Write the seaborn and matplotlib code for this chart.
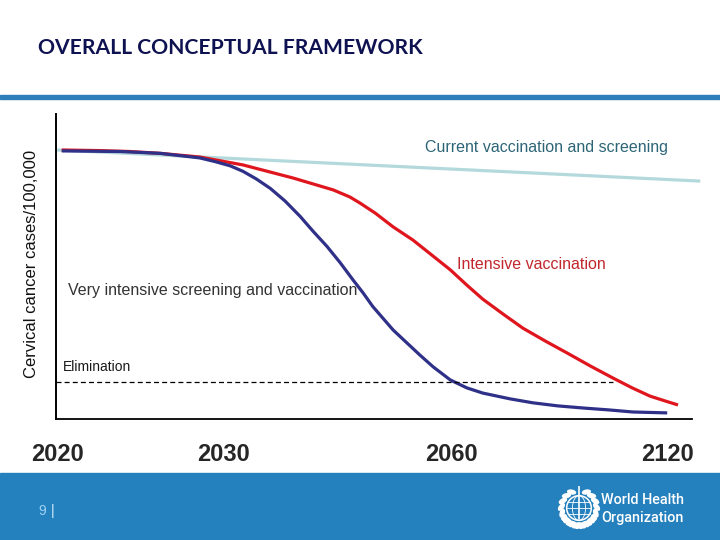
import numpy as np
import pandas as pd
import seaborn as sns
import matplotlib.pyplot as plt
from matplotlib.patches import Rectangle, Circle, Ellipse

# data (relative units: x = % of time axis, y = % of axis height)
current_x = [0.2, 101.3]
current_y = [88.2, 78.0]

intensive_x = [0.9, 6.9, 11.6, 16.4, 22.6, 29.4, 37.3, 43.6, 46.2, 47.8,
               50.2, 53.0, 56.1, 59.3, 62.0, 64.6, 67.1, 70.3, 73.4, 76.9,
               80.4, 84.0, 87.6, 90.6, 93.4, 95.8, 97.8]
intensive_y = [88.2, 88.0, 87.7, 87.1, 85.9, 83.3, 79.0, 75.1, 72.8, 70.8,
               67.5, 63.0, 58.7, 53.4, 48.9, 43.9, 39.3, 34.4, 29.8, 25.6,
               21.6, 17.4, 13.4, 10.2, 7.5, 5.9, 4.6]

very_x = [0.9, 10.1, 16.4, 22.6, 25.0, 27.4, 29.4, 31.5, 33.7, 36.0,
          38.4, 40.4, 42.6, 44.7, 46.7, 48.3, 49.8, 53.0, 55.2, 57.2,
          59.3, 62.0, 64.6, 67.1, 71.4, 75.0, 78.9, 82.9, 86.8, 90.7, 96.1]
very_y = [87.9, 87.7, 87.1, 85.6, 84.4, 83.0, 81.2, 78.7, 75.6, 71.5,
          66.4, 61.6, 56.6, 51.2, 45.6, 41.3, 36.9, 29.2, 24.9, 21.0,
          17.1, 12.8, 10.2, 8.5, 6.6, 5.3, 4.3, 3.6, 3.0, 2.3, 2.0]

elimination_level = 12.1
elimination_end = 87.6

tick_pos = [0.3, 26.4, 62.1, 96.2]
tick_labels = ["2020", "2030", "2060", "2120"]

scenarios = ["Current vaccination and screening", "Intensive vaccination",
             "Very intensive screening and vaccination"]
colors = ["#b4d9dc", "#e0161e", "#2f3088"]

df = pd.concat([
    pd.DataFrame({"x": current_x, "y": current_y, "scenario": scenarios[0]}),
    pd.DataFrame({"x": intensive_x, "y": intensive_y, "scenario": scenarios[1]}),
    pd.DataFrame({"x": very_x, "y": very_y, "scenario": scenarios[2]}),
])

sns.set_style("white")
plt.rcParams["font.family"] = ["Liberation Sans", "DejaVu Sans"]

fig = plt.figure(figsize=(7.2, 5.4), dpi=100)
ax = fig.add_axes([56 / 720, 121 / 540, 636 / 720, 305 / 540])

sns.lineplot(data=df, x="x", y="y", hue="scenario", palette=dict(zip(scenarios, colors)),
             sort=False, legend=False, linewidth=2.3, ax=ax)
for ln in ax.lines:
    ln.set_clip_on(False)
    ln.set_solid_capstyle("butt")
    ln.set_solid_joinstyle("round")

ax.plot([0, elimination_end], [elimination_level] * 2, color="black", lw=0.9,
        dashes=(4, 2.5))

ax.set_xlim(0, 100)
ax.set_ylim(0, 100)
ax.set_xticks(tick_pos)
ax.set_xticklabels(tick_labels, fontsize=17, fontweight="bold")
ax.set_yticks([])
ax.tick_params(axis="x", length=0, pad=17)
ax.set_xlabel("")
ax.set_ylabel("")
for s in ["top", "right"]:
    ax.spines[s].set_visible(False)
ax.spines["left"].set_linewidth(1.4)
ax.spines["bottom"].set_linewidth(1.3)
ax.spines["left"].set_color("black")
ax.spines["bottom"].set_color("black")

ax.text(58.0, 88.9, scenarios[0], fontsize=11.5, color="#2d6577", va="center")
ax.text(63.0, 50.8, scenarios[1], fontsize=11.5, color="#c1272d", va="center")
ax.text(1.9, 42.0, scenarios[2], fontsize=11.5, color="#333333", va="center")
ax.text(1.1, 17.0, "Elimination", fontsize=10, color="#1a1a1a", va="center")
ax.text(-0.039, 0.508, "Cervical cancer cases/100,000", transform=ax.transAxes,
        rotation=90, fontsize=12, color="#111111", ha="center", va="center")

# slide decorations
fig.text(38 / 720, 1 - 48 / 540, "OVERALL CONCEPTUAL FRAMEWORK", fontsize=15.2,
         fontweight="bold", family=["Lato", "DejaVu Sans"], color="#0f1250", va="center")
fig.patches.append(Rectangle((0, 1 - 99 / 540), 1, 4 / 540, transform=fig.transFigure,
                             color="#2c7fb8", zorder=-1))
fig.patches.append(Rectangle((0, 0), 1, 67 / 540, transform=fig.transFigure,
                             color="#2581be", zorder=-1))
fig.text(38 / 720, 1 - 511 / 540, "9", fontsize=10, color="#9fd3f5", va="center")
fig.text(51 / 720, 1 - 511 / 540, "|", fontsize=10, color="#d8eefc", va="center")
fig.text(601 / 720, 1 - 500 / 540, "World Health", fontsize=10.4, color="white",
         family=["Roboto", "DejaVu Sans"], fontweight="medium", va="center")
fig.text(601 / 720, 1 - 518 / 540, "Organization", fontsize=10.4, color="white",
         family=["Roboto", "DejaVu Sans"], fontweight="medium", va="center")

# simple emblem
em = fig.add_axes([557 / 720, 10 / 540, 44 / 720, 44 / 540])
em.set_zorder(2)
em.set_xlim(-1, 1)
em.set_ylim(-1, 1)
em.set_aspect("equal")
em.axis("off")
em.add_patch(Circle((0, 0), 0.56, fill=False, ec="white", lw=1.1))
em.add_patch(Ellipse((0, 0), 0.6, 1.12, fill=False, ec="white", lw=0.6))
for yy in [-0.28, 0, 0.28]:
    half = np.sqrt(0.56 ** 2 - yy ** 2)
    em.plot([-half, half], [yy, yy], color="white", lw=0.6)
em.plot([0, 0], [-0.5, 0.98], color="white", lw=1.2)
for deg in np.linspace(-140, 65, 11):
    for side in [-1, 1]:
        a = np.deg2rad(deg) if side == 1 else np.pi - np.deg2rad(deg)
        em.add_patch(Ellipse((0.8 * np.cos(a), 0.8 * np.sin(a)), 0.36, 0.17,
                             angle=np.rad2deg(a) + 90 + 35 * side, color="white"))

fig.savefig("out.png", dpi=100)
